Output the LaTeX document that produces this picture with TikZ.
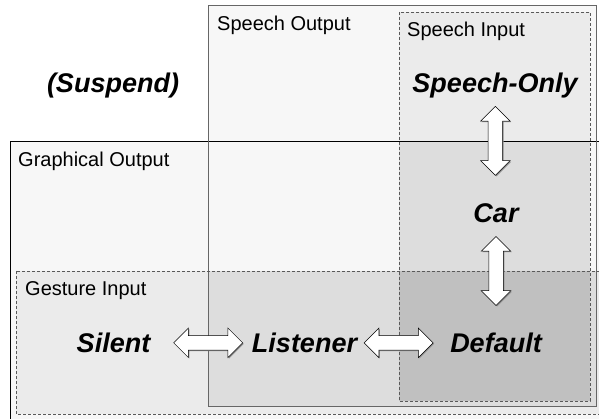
\documentclass[tikz,border=0pt]{standalone}
\usepackage{fontspec}
\setmainfont{Liberation Sans}
\usetikzlibrary{shapes.arrows,shadows}

\definecolor{paneLight}{HTML}{F7F7F7}
\definecolor{paneMid}{HTML}{EBEBEB}
\definecolor{paneDark}{HTML}{DDDDDD}
\definecolor{paneDeep}{HTML}{C0C0C0}

\begin{document}
\begin{tikzpicture}[x=1pt, y=-1pt,
    regionlabel/.style={font=\fontsize{20}{24}\selectfont, anchor=base west, inner sep=0pt},
    modelabel/.style={font=\fontsize{27}{32}\selectfont\bfseries\itshape, anchor=base, inner sep=0pt},
    modearrow/.style={double arrow, draw=black, fill=white, line width=0.5pt,
                      minimum height=69pt, minimum width=29pt,
                      double arrow head extend=7.5pt, inner xsep=0pt, inner ysep=7pt,
                      drop shadow={shadow xshift=1pt, shadow yshift=-1pt, fill=black!45, opacity=1}},
    inputframe/.style={draw=black!65, dash pattern=on 3pt off 2pt, line width=0.8pt}]
    \clip (0,0) rectangle (599,419);

    % shaded regions
    \fill[paneLight] (10,141)  rectangle (620,440);
    \fill[paneLight] (208,5)   rectangle (596,406);
    \fill[paneMid]   (399,12)  rectangle (590,401);
    \fill[paneMid]   (16,271)  rectangle (620,414);
    \fill[paneDark]  (399,141) rectangle (590,401);
    \fill[paneDark]  (208,271) rectangle (596,406);
    \fill[paneDeep]  (399,271) rectangle (590,401);

    % frames
    \draw[black, line width=0.8pt] (10,440) |- (620,141);
    \draw[black!60, line width=0.8pt] (208,5) rectangle (596,406);
    \draw[inputframe] (399,12) rectangle (590,401);
    \draw[inputframe] (16,271) rectangle (620,414);

    % region names
    \node[regionlabel] (speechout) at (217,30.5) {Speech Output};
    \node[regionlabel] (speechin)  at (407,37)   {Speech Input};
    \node[regionlabel] (graphout)  at (18,167)   {Graphical Output};
    \node[regionlabel] (gesturein) at (25,296)   {Gesture Input};

    % modes
    \node[modelabel] (suspend)    at (113,93)      {(Suspend)};
    \node[modelabel] (speechonly) at (495,93)      {Speech-Only};
    \node[modelabel] (car)        at (496,223)     {Car};
    \node[modelabel] (silent)     at (113.5,352.5) {Silent};
    \node[modelabel] (listener)   at (304.5,352.5) {Listener};
    \node[modelabel] (default)    at (496,352.5)   {Default};

    % transitions
    \path (speechonly) -- node[modearrow, pos=0.40, rotate=90] (so2car) {} (car);
    \path (car)        -- node[modearrow, pos=0.435, rotate=90] (car2def) {} (default);
    \path (silent)     -- node[modearrow, pos=0.57] (sil2lis) {} (listener);
    \path (listener)   -- node[modearrow, pos=0.446] (lis2def) {} (default);
\end{tikzpicture}
\end{document}
